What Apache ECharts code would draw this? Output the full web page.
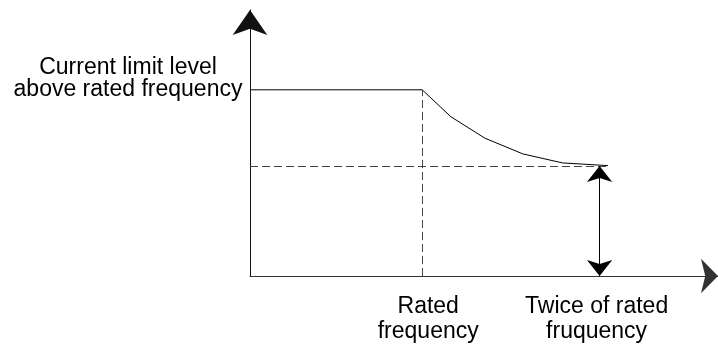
<!DOCTYPE html>
<html>
<head>
<meta charset="utf-8">
<script src="https://cdn.jsdelivr.net/npm/echarts@6/dist/echarts.min.js"></script>
<style>
  html, body { margin: 0; padding: 0; background: #fff; }
  #main { width: 718px; height: 347px; }
</style>
</head>
<body>
<div id="main"></div>
<script>
// curve: flat limit up to rated frequency, then falling toward twice rated
var curveX = [0, 36.8, 42.9, 50.2, 58.3, 66.8, 76.5];
var curveY = [70, 70, 59.9, 51.8, 45.9, 42.5, 41.5];

var ratedX = 36.8;
var twiceX = 74.7;
var limitHigh = 70;
var limitLow = 41.4;
var lowLineEnd = 76.3;

var xTickValues = [ratedX, twiceX];
var xTickLabels = ['{r|Rated}\n{r|frequency}', '{t|Twice of rated}\n{t|fruquency}'];
var yTickValues = [limitHigh];
var yTickLabels = ['Current limit level\nabove rated frequency\n'];

var dom = document.getElementById('main');
var myChart = echarts.init(dom, null, { renderer: 'canvas' });

var font = 'Liberation Sans, Arial, sans-serif';

function pickLabel(values, labels, v) {
    var best = 0;
    for (var i = 1; i < values.length; i++) {
        if (Math.abs(values[i] - v) < Math.abs(values[best] - v)) best = i;
    }
    return labels[best];
}

var curveData = curveX.map(function (x, i) { return [x, curveY[i]]; });

var labelText = { color: '#000', fontFamily: font, fontSize: 23, lineHeight: 25 };

var option = {
    animation: false,
    backgroundColor: '#fff',
    grid: {
        left: 250,
        right: 0,
        top: 10,
        bottom: 71,
        outerBoundsMode: 'none'
    },
    xAxis: {
        type: 'value',
        min: 0,
        max: 100,
        splitLine: { show: false },
        axisTick: { show: false },
        axisLine: {
            lineStyle: { color: '#333', width: 1 },
            symbol: ['none', 'arrow'],
            symbolSize: [26, 17],
            symbolOffset: [0, 0]
        },
        axisLabel: {
            customValues: xTickValues,
            formatter: function (v) { return pickLabel(xTickValues, xTickLabels, v); },
            color: '#000',
            fontFamily: font,
            fontSize: 23,
            lineHeight: 25,
            margin: 18,
            rich: {
                r: Object.assign({ padding: [0, 0, 0, 12] }, labelText),
                t: Object.assign({ padding: [0, 6, 0, 0] }, labelText)
            }
        }
    },
    yAxis: {
        type: 'value',
        min: 0,
        max: 100,
        splitLine: { show: false },
        axisTick: { show: false },
        axisLine: {
            lineStyle: { color: '#111', width: 1 },
            symbol: ['none', 'arrow'],
            symbolSize: [26, 25],
            symbolOffset: [0, 0]
        },
        axisLabel: {
            customValues: yTickValues,
            formatter: function (v) { return pickLabel(yTickValues, yTickLabels, v); },
            color: '#000',
            fontFamily: font,
            fontSize: 23,
            lineHeight: 22,
            align: 'center',
            margin: 122
        }
    },
    series: [
        {
            type: 'line',
            data: curveData,
            symbol: 'none',
            silent: true,
            lineStyle: { color: '#000', width: 1 },
            markLine: {
                silent: true,
                symbol: 'none',
                label: { show: false },
                lineStyle: { color: '#444', width: 1, type: [8, 4] },
                data: [
                    [{ coord: [ratedX, 0] }, { coord: [ratedX, limitHigh] }],
                    [{ coord: [0, limitLow] }, { coord: [lowLineEnd, limitLow] }]
                ]
            }
        },
        {
            type: 'line',
            data: [],
            silent: true,
            markLine: {
                silent: true,
                symbol: ['arrow', 'arrow'],
                symbolSize: [19, 16],
                label: { show: false },
                lineStyle: { color: '#000', width: 1, type: 'solid' },
                data: [
                    [{ coord: [twiceX, 0] }, { coord: [twiceX, limitLow] }]
                ]
            }
        }
    ]
};

if (option && typeof option === 'object') {
    myChart.setOption(option);
}

window.addEventListener('resize', myChart.resize);
</script>
</body>
</html>
